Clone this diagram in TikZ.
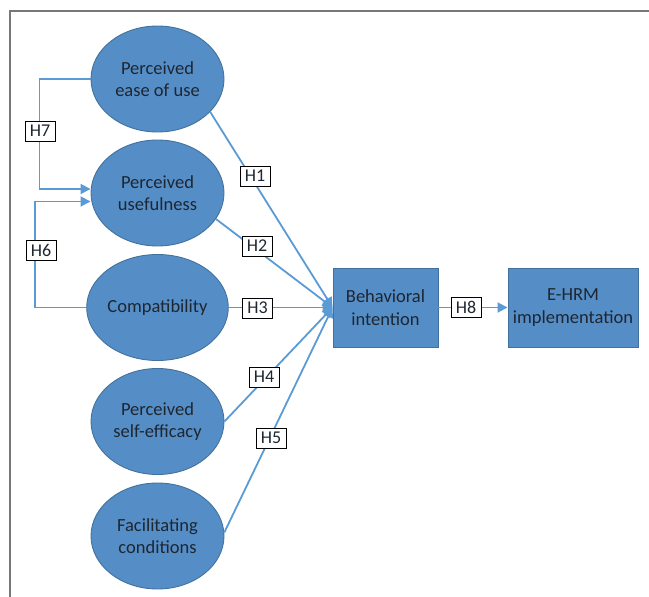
\documentclass[tikz,border=0pt]{standalone}
\usepackage{fontspec}
\setmainfont{Carlito}
\usetikzlibrary{shapes.geometric,arrows.meta}
\definecolor{fillblue}{RGB}{85,142,199}
\definecolor{edgeblue}{RGB}{65,113,156}
\definecolor{lineblue}{RGB}{91,155,213}
\definecolor{textdark}{RGB}{30,38,48}
\definecolor{framegray}{RGB}{120,120,120}
\tikzset{
  ell/.style={ellipse, draw=edgeblue, line width=0.9pt, fill=fillblue, minimum width=133pt, minimum height=106pt, inner sep=0pt, align=center, text=textdark, font=\fontsize{18.5}{22.5}\selectfont},
  boxn/.style={rectangle, draw=edgeblue, line width=0.9pt, fill=fillblue, minimum height=79pt, inner sep=0pt, align=center, text=textdark, font=\fontsize{18.5}{22.5}\selectfont},
  conn/.style={draw=lineblue, line width=1.8pt},
  arr/.style={conn, -{Triangle[length=10pt,width=10pt]}},
  hl/.style={draw=black, fill=white, line width=0.8pt, minimum width=30pt, minimum height=20pt, inner sep=1pt, text=textdark, font=\fontsize{18}{20}\selectfont}
}
\begin{document}
\begin{tikzpicture}[x=1pt,y=-1pt]
\useasboundingbox (0,0) rectangle (649,597);
\draw[framegray, line width=1.5pt] (10,597) -- (10,11) -- (649,11);
\node[ell] (pe) at (157.5,79) {Perceived\\ease of use};
\node[ell] (pu) at (157.5,193) {Perceived\\usefulness};
\node[ell] (co) at (157.5,307.5) {Compatibility};
\node[ell] (ps) at (157.5,421.5) {Perceived\\self-efficacy};
\node[ell] (fc) at (157.5,536) {Facilitating\\conditions};
\node[boxn, minimum width=105pt] (bi) at (385.5,307.5) {Behavioral\\intention};
\node[boxn, minimum width=130pt] (eh) at (573,307.5) {E-HRM\\implementation};
\draw[arr] (pe.west) -- ++(-51,0) |- ([yshift=4pt]pu.west);
\draw[arr] (co.west) -- ++(-51,0) |- ([yshift=-8.5pt]pu.west);
\draw[arr] (pe.-32) -- (bi.west);
\draw[arr] (pu.-24) -- (bi.west);
\draw[arr] (co.east) -- (bi.west);
\draw[arr] (ps.east) -- (bi.west);
\draw[arr] (fc.3) -- (bi.west);
\draw[arr] (bi.east) -- (eh.west);
\node[hl] (h7) at (40,131) {H7};
\node[hl] (h6) at (41,250) {H6};
\node[hl] (h1) at (255,176) {H1};
\node[hl] (h2) at (257,246) {H2};
\node[hl] (h3) at (257.5,308) {H3};
\node[hl] (h4) at (264,377) {H4};
\node[hl] (h5) at (271,438) {H5};
\node[hl] (h8) at (466,307) {H8};
\end{tikzpicture}
\end{document}
